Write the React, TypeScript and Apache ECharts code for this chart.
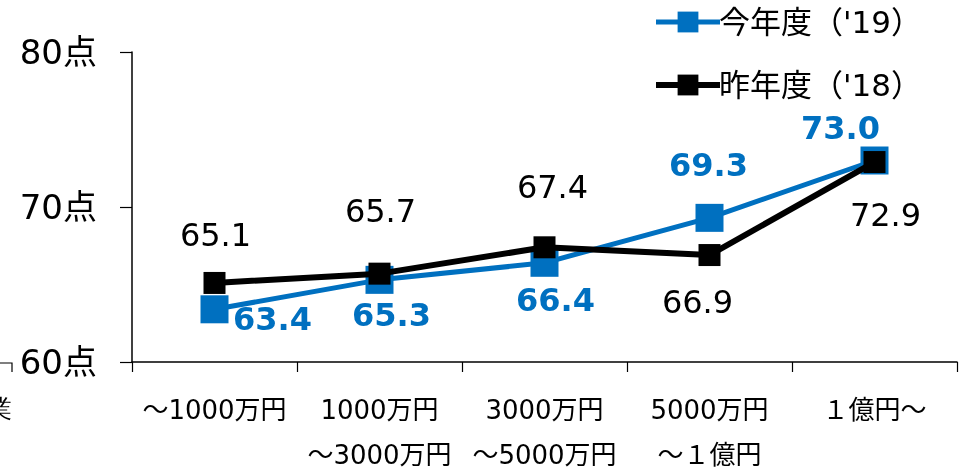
import React, { useEffect, useRef } from "react";
import * as echarts from "echarts";

const categories = [
  "～1000万円",
  "1000万円\n～3000万円",
  "3000万円\n～5000万円",
  "5000万円\n～１億円",
  "１億円～",
];
const seriesNames = ["今年度（'19）", "昨年度（'18）"];
const thisYear = [63.4, 65.3, 66.4, 69.3, 73.0];
const lastYear = [65.1, 65.7, 67.4, 66.9, 72.9];
const yTicks = [60, 70, 80];

// label offsets (layout only)
const blueOffsets = [[58, 10], [12, 35], [11, 37], [-1, -53], [-34, -33]];
const blackOffsets = [[1, -48], [1, -63], [8, -60], [-12, 47], [11, 53]];

const BLUE = "#0070C0";
const FONT = "'DejaVu Sans', 'Noto Sans CJK JP', sans-serif";

export default function App() {
  const ref = useRef<HTMLDivElement>(null);
  useEffect(() => {
    if (!ref.current) return;
    const chart = echarts.init(ref.current, undefined, { renderer: "svg" });
    chart.setOption({
      animation: false,
      textStyle: { fontFamily: FONT },
      grid: {
        left: 132,
        right: 7,
        top: 52,
        bottom: 107,
        containLabel: false,
        outerBoundsMode: "none",
      },
      legend: {
        orient: "vertical",
        left: 648,
        top: -1,
        itemWidth: 64,
        itemHeight: 26,
        itemGap: 27,
        textStyle: { fontSize: 31, color: "#000", lineHeight: 36, fontFamily: FONT, padding: [0, 0, 0, -6] },
        data: [
          { name: seriesNames[0], itemStyle: { color: BLUE }, lineStyle: { color: BLUE, width: 5 } },
          { name: seriesNames[1], itemStyle: { color: "#000" }, lineStyle: { color: "#000", width: 6 } },
        ],
      },
      xAxis: {
        type: "category",
        data: categories,
        boundaryGap: true,
        axisLine: { lineStyle: { color: "#000", width: 1.5 } },
        axisTick: { show: true, length: 10, lineStyle: { color: "#000", width: 1.2 } },
        axisLabel: {
          color: "#000",
          fontSize: 26,
          lineHeight: 45,
          margin: 25,
          interval: 0,
          fontFamily: FONT,
        },
      },
      yAxis: {
        type: "value",
        min: yTicks[0],
        max: yTicks[yTicks.length - 1],
        interval: 10,
        splitLine: { show: false },
        axisLine: { show: true, lineStyle: { color: "#000", width: 1.5 } },
        axisTick: { show: true, length: 12, lineStyle: { color: "#000", width: 1.2 } },
        axisLabel: {
          color: "#000",
          fontSize: 34,
          margin: 35,
          fontFamily: FONT,
          formatter: (v: number) => `${v}点`,
        },
      },
      series: [
        {
          name: seriesNames[0],
          type: "line",
          data: thisYear.map((v, i) => ({
            value: v,
            label: { offset: blueOffsets[i] },
          })),
          symbol: "rect",
          symbolSize: 28,
          lineStyle: { color: BLUE, width: 5 },
          itemStyle: { color: BLUE },
          label: {
            show: true,
            position: "inside",
            color: BLUE,
            fontWeight: "bold",
            fontSize: 32,
            fontFamily: FONT,
            formatter: (p: any) => p.value.toFixed(1),
          },
          z: 2,
        },
        {
          name: seriesNames[1],
          type: "line",
          data: lastYear.map((v, i) => ({
            value: v,
            label: { offset: blackOffsets[i] },
          })),
          symbol: "rect",
          symbolSize: 22,
          lineStyle: { color: "#000", width: 6 },
          itemStyle: { color: "#000" },
          label: {
            show: true,
            position: "inside",
            color: "#000",
            fontSize: 32,
            fontFamily: FONT,
            formatter: (p: any) => p.value.toFixed(1),
          },
          z: 3,
        },
      ],
      graphic: [
        {
          type: "text",
          left: -14,
          top: 396,
          style: { text: "業", fontSize: 26, fill: "#000", font: `26px ${FONT}` },
        },
        {
          type: "polyline",
          shape: { points: [[0, 363], [12, 363], [12, 372]] },
          style: { stroke: "#000", lineWidth: 1.2, fill: "none" },
        },
      ],
    });
    return () => chart.dispose();
  }, []);
  return (
    <div
      ref={ref}
      style={{ position: "fixed", left: 0, top: 0, width: 964, height: 469 }}
    />
  );
}
